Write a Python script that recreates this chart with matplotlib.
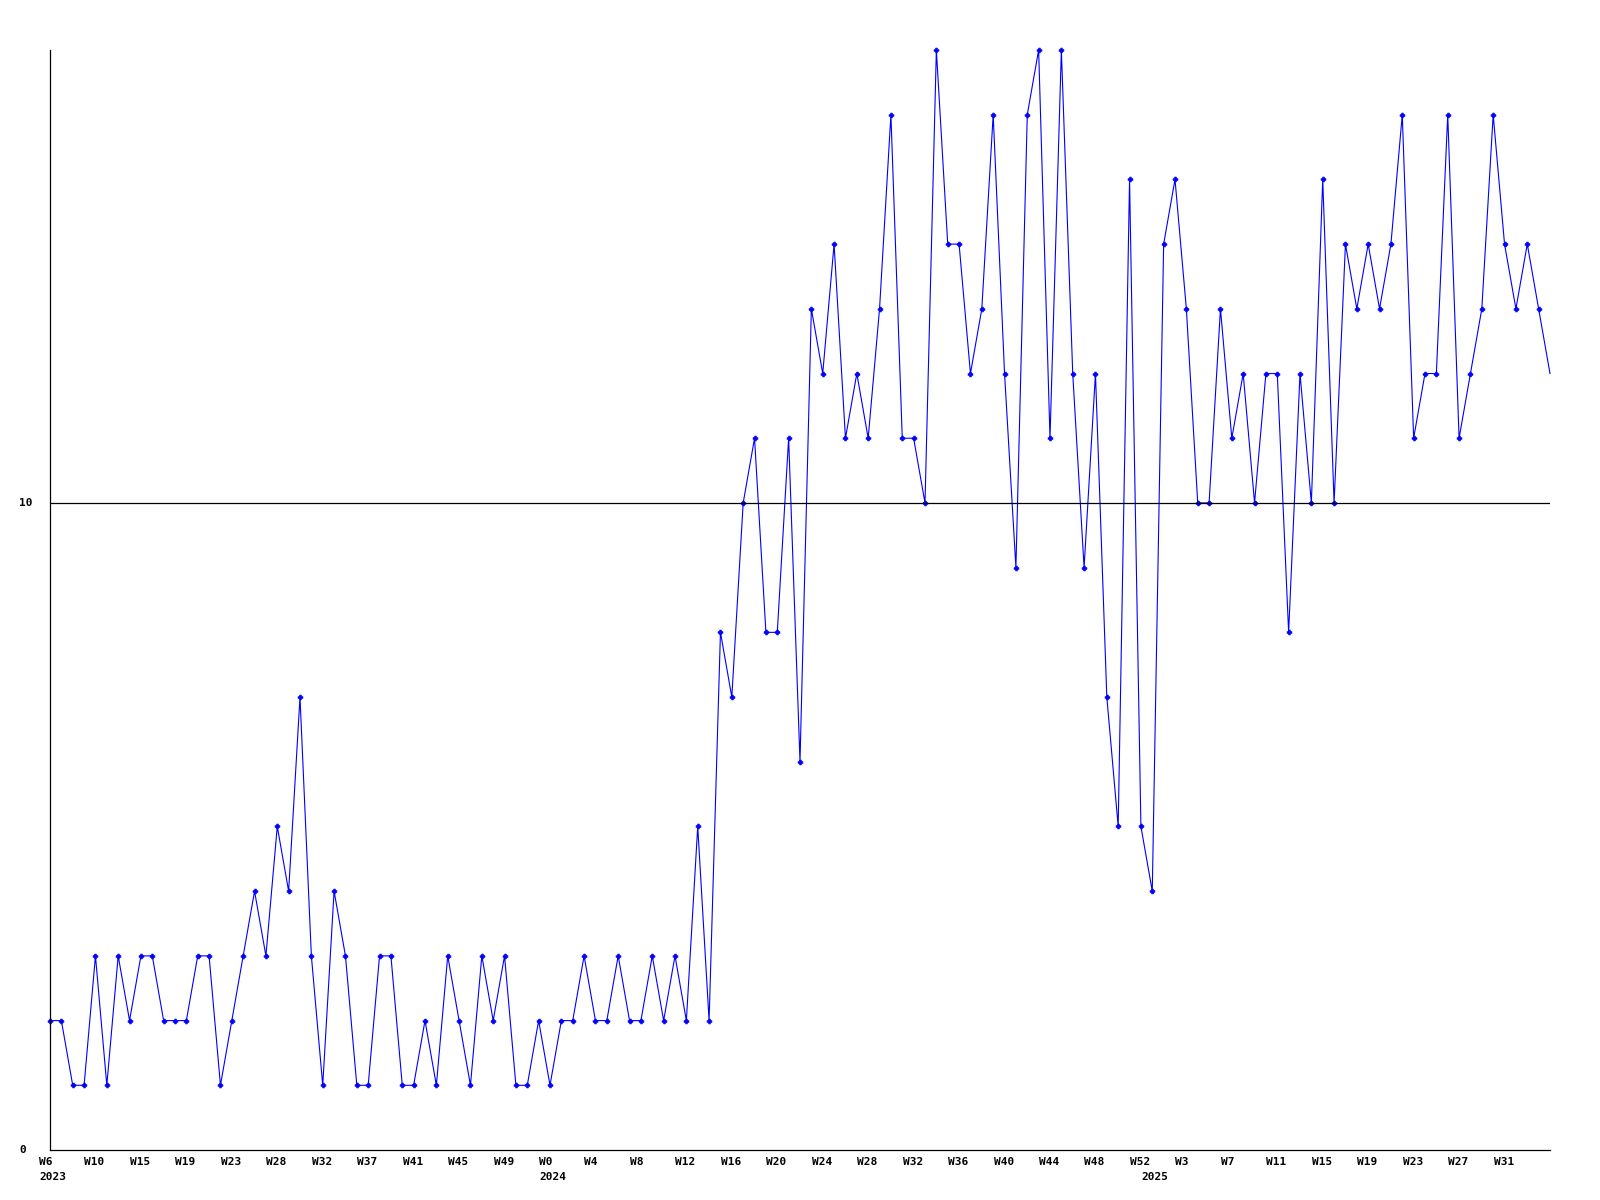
import matplotlib
matplotlib.use('Agg')
import matplotlib.pyplot as plt
import matplotlib.transforms as mtransforms

# weekly counts, one per week starting 2023 W6
values = [2, 2, 1, 1, 3, 1, 3, 2, 3, 3,
          2, 2, 2, 3, 3, 1, 2, 3, 4, 3,
          5, 4, 7, 3, 1, 4, 3, 1, 1, 3,
          3, 1, 1, 2, 1, 3, 2, 1, 3, 2,
          3, 1, 1, 2, 1, 2, 2, 3, 2, 2,
          3, 2, 2, 3, 2, 3, 2, 5, 2, 8,
          7, 10, 11, 8, 8, 11, 6, 13, 12, 14,
          11, 12, 11, 13, 16, 11, 11, 10, 17, 14,
          14, 12, 13, 16, 12, 9, 16, 17, 11, 17,
          12, 9, 12, 7, 5, 15, 5, 4, 14, 15,
          13, 10, 10, 13, 11, 12, 10, 12, 12, 8,
          12, 10, 15, 10, 14, 13, 14, 13, 14, 16,
          11, 12, 12, 16, 11, 12, 13, 16, 14, 13,
          14, 13, 12]

week_labels = ['W6', 'W10', 'W15', 'W19', 'W23', 'W28', 'W32', 'W37', 'W41',
               'W45', 'W49', 'W0', 'W4', 'W8', 'W12', 'W16', 'W20', 'W24',
               'W28', 'W32', 'W36', 'W40', 'W44', 'W48', 'W52', 'W3', 'W7',
               'W11', 'W15', 'W19', 'W23', 'W27', 'W31']
year_labels = ['2023', '2024', '2025']
year_index = [0, 44, 97]

font = dict(family='DejaVu Sans Mono', weight='bold', size=8)

fig = plt.figure(figsize=(16, 12), dpi=100)
ax = fig.add_axes([50 / 1600, 50 / 1200, 1500 / 1600, 1100 / 1200])

x = list(range(len(values)))
# the current (last) week is drawn without a marker
ax.plot(x, values, color='#0000ff', lw=0.8, marker='P', markersize=3.4,
        markeredgewidth=0.6, markeredgecolor='#0000ff',
        markevery=list(range(len(values) - 1)), clip_on=False)
ax.axhline(10, color='black', lw=0.9)

ax.set_xlim(0, len(values) - 1)
ax.set_ylim(0, 17)
ax.spines['top'].set_visible(False)
ax.spines['right'].set_visible(False)
ax.spines['left'].set_linewidth(0.9)
ax.spines['bottom'].set_linewidth(0.9)
ax.set_xticks([])
ax.set_yticks([])

ylab_tr = mtransforms.blended_transform_factory(fig.transFigure, ax.transData)
for v in [0, 10]:
    ax.text(19 / 1600, v, str(v), transform=ylab_tr, ha='left', va='center', **font)

wk_tr = mtransforms.offset_copy(ax.transData, fig=fig, x=-11, y=-12, units='dots')
for i, lab in enumerate(week_labels):
    ax.text(i * 4, 0, lab, transform=wk_tr, ha='left', va='center', **font)

yr_tr = mtransforms.offset_copy(ax.transData, fig=fig, x=-11, y=-27, units='dots')
for i, lab in zip(year_index, year_labels):
    ax.text(i, 0, lab, transform=yr_tr, ha='left', va='center', **font)

fig.savefig('out.png', dpi=100)
